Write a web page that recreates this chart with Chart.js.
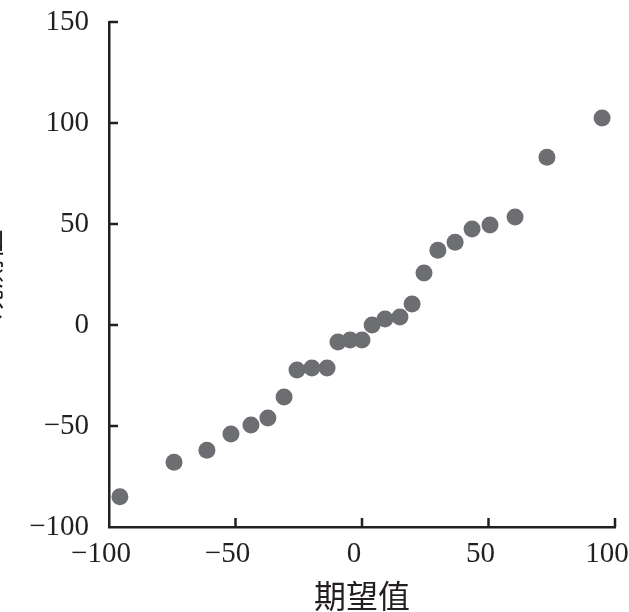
<!DOCTYPE html>
<html lang="zh">
<head>
  <meta charset="UTF-8">
  <title>观测值 vs 期望值</title>
  <script src="https://cdn.jsdelivr.net/npm/chart.js"></script>
  <style>
    html, body {
      margin: 0;
      padding: 0;
      background: #fff;
      overflow: hidden;
    }
    .wrap {
      position: relative;
      width: 629px;
      height: 612px;
      overflow: hidden;
    }
    .wrap canvas {
      position: absolute;
      left: -29px;
      top: 0;
    }
  </style>
</head>
<body>
  <div class="wrap">
    <canvas id="chart" width="678" height="612"></canvas>
  </div>

  <script>
    const expected = [-95.7, -74.3, -61.3, -51.8, -43.9, -37.2, -30.8, -25.7, -19.8, -13.8,
                      -9.5, -4.7, 0, 4, 9.1, 15, 19.8, 24.5, 30, 36.8,
                      43.5, 50.6, 60.5, 73.1, 94.9];
    const observed = [-85, -68, -62, -54, -49.5, -46, -35.6, -22.3, -21.3, -21.3,
                      -8.4, -7.4, -7.4, 0, 3, 4, 10.4, 25.7, 37, 41,
                      47.5, 49.5, 53.5, 83, 102.5];
    const xTicks = [-100, -50, 0, 50, 100];
    const yTicks = [-100, -50, 0, 50, 100, 150];

    const ink = '#231f20';
    const fmt = v => v < 0 ? '\u2212' + Math.abs(v) : String(v);

    // short tick marks pointing into the plot area
    const innerTicks = {
      id: 'innerTicks',
      afterDraw(chart) {
        const ctx = chart.ctx;
        const x = chart.scales.x, y = chart.scales.y;
        const len = 9;
        ctx.save();
        ctx.strokeStyle = ink;
        ctx.lineWidth = 2.5;
        ctx.beginPath();
        xTicks.slice(1).forEach(v => {
          const px = x.getPixelForValue(v);
          ctx.moveTo(px, y.bottom);
          ctx.lineTo(px, y.bottom - len);
        });
        yTicks.slice(1).forEach(v => {
          const py = y.getPixelForValue(v);
          ctx.moveTo(x.left, py);
          ctx.lineTo(x.left + len, py);
        });
        ctx.stroke();
        ctx.restore();
      }
    };

    new Chart(document.getElementById('chart'), {
      type: 'scatter',
      data: {
        datasets: [{
          data: expected.map((v, i) => ({ x: v, y: observed[i] })),
          backgroundColor: '#6d6e71',
          borderWidth: 0,
          pointRadius: 8.5,
          pointHoverRadius: 8.5
        }]
      },
      options: {
        responsive: false,
        animation: false,
        layout: { padding: { top: 22, right: 34, bottom: 0, left: 0 } },
        plugins: {
          legend: { display: false },
          tooltip: { enabled: false }
        },
        scales: {
          x: {
            type: 'linear',
            min: -100,
            max: 100,
            afterBuildTicks: s => { s.ticks = xTicks.map(v => ({ value: v })); },
            afterFit: s => {
              s.height = 85;
              s.paddingLeft = 0;
              s.paddingRight = 0;
            },
            grid: { display: true, drawOnChartArea: false, drawTicks: false },
            border: { display: true, color: ink, width: 2.5 },
            ticks: {
              padding: 10,
              labelOffset: -8,
              color: ink,
              maxRotation: 0,
              font: { family: 'Liberation Serif', size: 29 },
              callback: fmt
            },
            title: {
              display: true,
              text: '期望值',
              color: ink,
              padding: 0,
              font: { family: 'Noto Sans CJK SC', size: 32, lineHeight: 1 }
            }
          },
          y: {
            type: 'linear',
            min: -100,
            max: 150,
            afterBuildTicks: s => { s.ticks = yTicks.map(v => ({ value: v })); },
            afterFit: s => {
              s.width = 138;
              s.paddingTop = 0;
              s.paddingBottom = 0;
            },
            grid: { display: true, drawOnChartArea: false, drawTicks: false },
            border: { display: true, color: ink, width: 2.5 },
            ticks: {
              padding: 20,
              color: ink,
              font: { family: 'Liberation Serif', size: 29 },
              callback: fmt
            },
            title: {
              display: true,
              text: '观测值',
              color: ink,
              padding: { top: 3, bottom: 0 },
              font: { family: 'Noto Sans CJK SC', size: 30, lineHeight: 1 }
            }
          }
        }
      },
      plugins: [innerTicks]
    });
  </script>
</body>
</html>
